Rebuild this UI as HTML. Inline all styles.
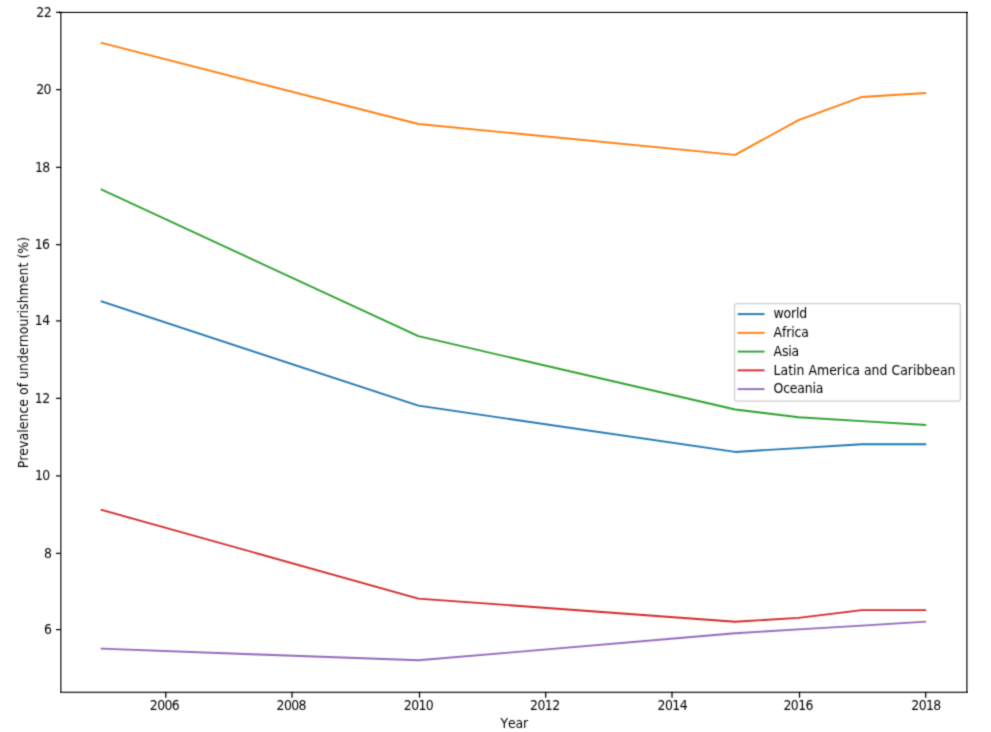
<!DOCTYPE html><html><head><meta charset="utf-8"><title>Prevalence of undernourishment</title><style>html,body{margin:0;padding:0;background:#fff;overflow:hidden;}svg{display:block;will-change:transform;}text{font-family:"DejaVu Sans","Liberation Sans",sans-serif;font-size:12.5px;fill:#000;font-kerning:none;}.d{letter-spacing:-0.6px;}</style></head><body>
<svg width="991" height="732" viewBox="0 0 991 732">
<defs><filter id="b" x="0" y="0" width="991" height="732" filterUnits="userSpaceOnUse" color-interpolation-filters="sRGB"><feConvolveMatrix order="5" kernelMatrix="0.00001 0.00096 0.00387 0.00096 0.00001 0.00096 0.06218 0.24935 0.06218 0.00096 0.00387 0.24935 1.00000 0.24935 0.00387 0.00096 0.06218 0.24935 0.06218 0.00096 0.00001 0.00096 0.00387 0.00096 0.00001" divisor="2.26935" edgeMode="duplicate" preserveAlpha="true"/></filter>
<clipPath id="c"><rect x="61.00" y="12.40" width="906.00" height="679.50"/></clipPath></defs>
<rect width="991" height="732" fill="#fff"/>
<g filter="url(#b)">
<rect width="991" height="732" fill="#fff"/>
<g clip-path="url(#c)" fill="none" stroke-width="1.875" stroke-linecap="square" stroke-linejoin="round">
<polyline points="101.58,301.46 418.37,405.64 735.15,451.94 798.50,448.08 861.86,444.22 925.22,444.22" stroke="#1f77b4"/>
<polyline points="101.58,42.94 418.37,123.97 735.15,154.83 798.50,120.11 861.86,96.96 925.22,93.10" stroke="#ff7f0e"/>
<polyline points="101.58,189.56 418.37,336.18 735.15,409.50 798.50,417.21 861.86,421.07 925.22,424.93" stroke="#2ca02c"/>
<polyline points="101.58,509.82 418.37,598.56 735.15,621.71 798.50,617.85 861.86,610.14 925.22,610.14" stroke="#d62728"/>
<polyline points="101.58,648.72 418.37,660.30 735.15,633.29 798.50,629.43 861.86,625.57 925.22,621.71" stroke="#9467bd"/>
</g>
<path d="M165.80 692.00V697.65M292.05 692.00V697.65M419.50 692.00V697.65M545.70 692.00V697.65M672.00 692.00V697.65M799.50 692.00V697.65M925.70 692.00V697.65M56.05 12.39H60.80M56.05 89.74H60.80M56.05 167.30H60.80M56.05 244.65H60.80M56.05 320.97H60.80M56.05 398.48H60.80M56.05 475.98H60.80M56.05 553.46H60.80M56.05 629.60H60.80" stroke="#000" stroke-width="1.25" fill="none"/>
<text transform="translate(164.49,710.12) scale(1,1.090)" text-anchor="middle" class="d">2006</text>
<text transform="translate(291.22,709.91) scale(1,1.090)" text-anchor="middle" class="d">2008</text>
<text transform="translate(418.49,709.80) scale(1,1.090)" text-anchor="middle" class="d">2010</text>
<text transform="translate(544.80,709.75) scale(1,1.090)" text-anchor="middle" class="d">2012</text>
<text transform="translate(672.30,709.79) scale(1,1.090)" text-anchor="middle" class="d">2014</text>
<text transform="translate(798.16,710.01) scale(1,1.090)" text-anchor="middle" class="d">2016</text>
<text transform="translate(926.01,709.81) scale(1,1.090)" text-anchor="middle" class="d">2018</text>
<text transform="translate(50.99,16.80) scale(1,1.090)" text-anchor="end" class="d">22</text>
<text transform="translate(50.94,93.80) scale(1,1.090)" text-anchor="end" class="d">20</text>
<text transform="translate(49.61,171.98) scale(1,1.090)" text-anchor="end" class="d">18</text>
<text transform="translate(49.45,248.70) scale(1,1.090)" text-anchor="end" class="d">16</text>
<text transform="translate(49.51,325.11) scale(1,1.090)" text-anchor="end" class="d">14</text>
<text transform="translate(49.49,402.71) scale(1,1.090)" text-anchor="end" class="d">12</text>
<text transform="translate(49.64,480.12) scale(1,1.090)" text-anchor="end" class="d">10</text>
<text transform="translate(51.45,557.71) scale(1,1.090)" text-anchor="end" class="d">8</text>
<text transform="translate(51.33,633.82) scale(1,1.090)" text-anchor="end" class="d">6</text>
<text transform="translate(514.17,727.60) scale(1,1.090)" text-anchor="middle" style="letter-spacing:-0.20px">Year</text>
<text transform="translate(27.60,352.62) rotate(-90) scale(1,1.090)" text-anchor="middle" style="letter-spacing:0.035px">Prevalence of undernourishment (%)</text>
<rect x="734.50" y="303.50" width="225.85" height="97.50" rx="2.5" ry="2.5" fill="#fff" fill-opacity="0.8" stroke="#cccccc" stroke-width="1.25"/>
<line x1="738.60" y1="314.10" x2="763.60" y2="314.10" stroke="#1f77b4" stroke-width="1.875" stroke-linecap="square"/>
<text transform="translate(773.60,318.40) scale(1,1.090)" style="letter-spacing:-0.22px">world</text>
<line x1="738.60" y1="332.85" x2="763.60" y2="332.85" stroke="#ff7f0e" stroke-width="1.875" stroke-linecap="square"/>
<text transform="translate(773.60,337.15) scale(1,1.090)" style="letter-spacing:-0.14px">Africa</text>
<line x1="738.60" y1="351.60" x2="763.60" y2="351.60" stroke="#2ca02c" stroke-width="1.875" stroke-linecap="square"/>
<text transform="translate(773.60,355.90) scale(1,1.090)" style="letter-spacing:-0.22px">Asia</text>
<line x1="738.60" y1="370.35" x2="763.60" y2="370.35" stroke="#d62728" stroke-width="1.875" stroke-linecap="square"/>
<text transform="translate(773.60,374.65) scale(1,1.090)">Latin America and Caribbean</text>
<line x1="738.60" y1="389.10" x2="763.60" y2="389.10" stroke="#9467bd" stroke-width="1.875" stroke-linecap="square"/>
<text transform="translate(773.60,393.40) scale(1,1.090)" style="letter-spacing:-0.22px">Oceania</text>
</g>
<g shape-rendering="crispEdges"><rect x="59" y="10" width="909" height="1" fill-opacity="0.027"/><rect x="59" y="11" width="909" height="1" fill-opacity="0.216"/><rect x="59" y="12" width="909" height="1" fill-opacity="0.733"/><rect x="59" y="13" width="909" height="1" fill-opacity="0.122"/><rect x="60" y="690" width="908" height="1" fill-opacity="0.020"/><rect x="60" y="691" width="908" height="1" fill-opacity="0.353"/><rect x="60" y="692" width="908" height="1" fill-opacity="0.600"/><rect x="60" y="693" width="908" height="1" fill-opacity="0.157"/><rect x="59" y="12" width="1" height="680" fill-opacity="0.059"/><rect x="60" y="12" width="1" height="680" fill-opacity="0.584"/><rect x="61" y="12" width="1" height="680" fill-opacity="0.412"/><rect x="62" y="12" width="1" height="680" fill-opacity="0.039"/><rect x="965" y="12" width="1" height="680" fill-opacity="0.059"/><rect x="966" y="12" width="1" height="680" fill-opacity="0.584"/><rect x="967" y="12" width="1" height="680" fill-opacity="0.435"/><rect x="968" y="12" width="1" height="680" fill-opacity="0.059"/></g>
</svg></body></html>
